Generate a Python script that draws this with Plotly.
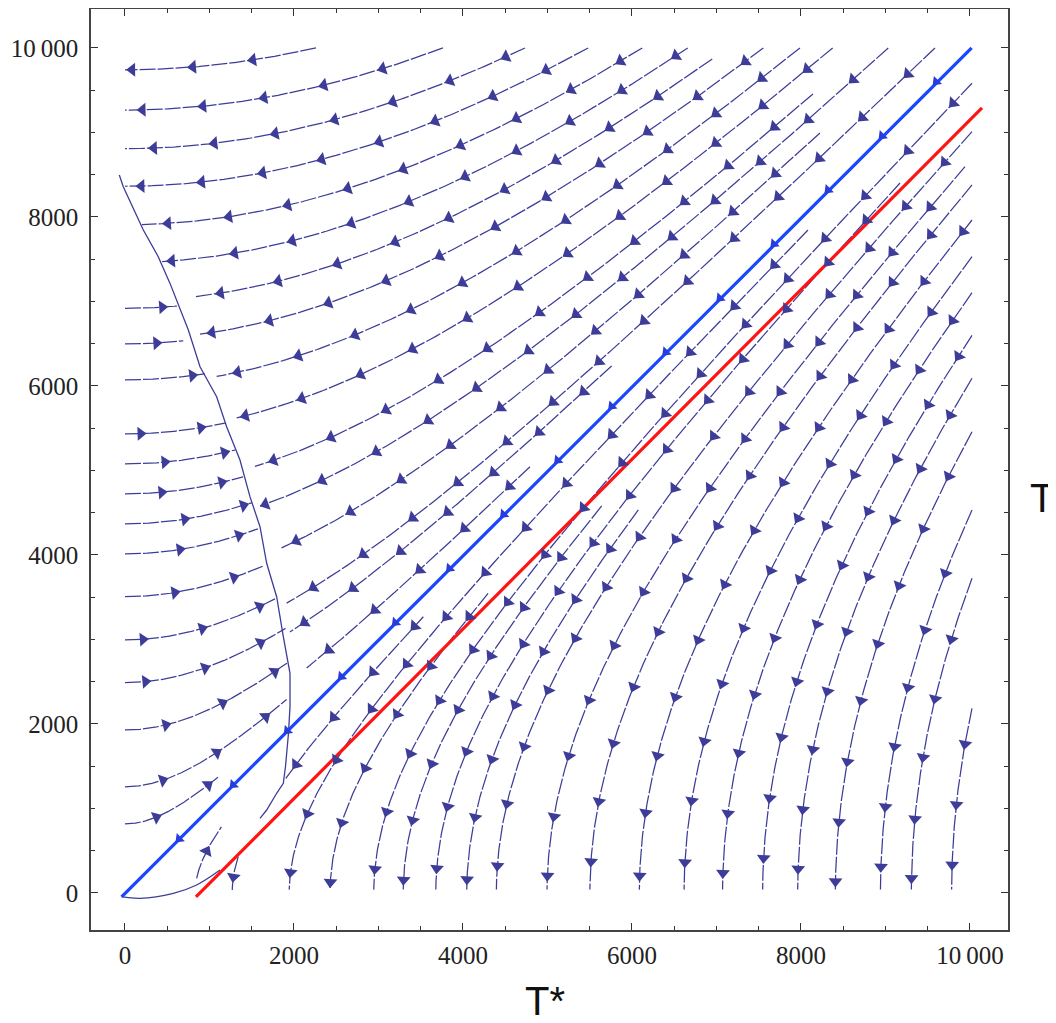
import numpy as np
import plotly.graph_objects as go

# ---------------- data ----------------
# Upper family (above the diagonal, flowing left): start point and end T*
UP_X0 = [2260, 3763, 4734, 5482, 6121, 6660, 6950, 7554, 7988, 8375, 8142, 9033, 8225, 9586, 5759, 4793]
UP_Y0 = [10000, 10000, 10000, 10000, 10000, 10000, 9870, 10000, 10000, 10000, 9456, 10000, 8994, 10000, 6237, 5044]
UP_X1 = [0, 0, 0, 0, 200, 414, 828, 888, 1085, 1322, 1538, 1598, 1834, 1913, 1953, 2150]

# Left family (start at T*=0, flowing right to the nullcline): start T and end T*
LEFT_Y0 = [6919, 6497, 6071, 5432, 5077, 4722, 4367, 4012, 3506, 2994, 2489, 1929, 1257, 817]
LEFT_X1 = [620, 690, 947, 1183, 1302, 1397, 1500, 1574, 1633, 1775, 1900, 1917, 1913, 1104]

# Lower family (below the diagonal, flowing down): start point and end T
LOW_X0 = [10024, 10024, 10024, 10024, 10024, 10024, 10024, 10024, 10024, 10024, 9941, 10024,
          6075, 9172, 5641, 10024, 4297, 8083, 1340, 3531, 848]
LOW_Y0 = [2186, 3724, 4533, 5459, 6091, 6598, 7104, 7530, 7964, 8379, 8595, 9009,
          4533, 8402, 4580, 9582, 3546, 7846, 430, 3269, 173]
LOW_Y1 = [40, 40, 40, 40, 40, 40, 40, 40, 40, 40, 40, 40,
          40, 40, 40, 40, 40, 40, 30, 1357, 783]

# Nullcline curves (thin lines)
NULL_X = [-67, -20, 217, 394, 533, 750, 888, 1085, 1203, 1361, 1479, 1598, 1677, 1795, 1874,
          1910, 1953, 1953, 1935, 1900, 1874, 1795, 1677, 1598]
NULL_Y = [8497, 8358, 7846, 7530, 7214, 6663, 6228, 5873, 5518, 5124, 4690, 4335, 3902, 3506, 3033,
          2850, 2600, 2205, 1890, 1500, 1298, 1180, 982, 884]
BOT_X = [-39, 177, 572, 848, 1124]
BOT_Y = [-44, -63, -4, 95, 272]

# Straight lines
BLUE_X = [-40, 10020]
BLUE_Y = [-45, 10000]
RED_X = [840, 10142]
RED_Y = [-47, 9290]

TICK_VALS = [0, 2000, 4000, 6000, 8000, 10000]
TICK_TEXT = ["0", "2000", "4000", "6000", "8000", "10\u2009000"]

# ---------------- geometry helpers ----------------
def hyper_path(x0, y0, x1=None, y1=None, n=160):
    C = y0 ** 2 - x0 ** 2
    if C > 0:
        a = np.sqrt(C)
        u = np.linspace(np.arcsinh(x0 / a), np.arcsinh(x1 / a), n)
        return a * np.sinh(u), a * np.cosh(u)
    a = np.sqrt(-C)
    u = np.linspace(np.arcsinh(y0 / a), np.arcsinh(y1 / a), n)
    return a * np.cosh(u), a * np.sinh(u)

paths = []
for x0, y0, x1 in zip(UP_X0, UP_Y0, UP_X1):
    paths.append(hyper_path(x0, y0, x1=x1))
for y0, x1 in zip(LEFT_Y0, LEFT_X1):
    paths.append(hyper_path(0.0, y0, x1=x1))
for x0, y0, y1 in zip(LOW_X0, LOW_Y0, LOW_Y1):
    paths.append(hyper_path(x0, y0, y1=y1))

SPACING = 720.0
lx, ly = [], []
ax, ay, aang = [], [], []
for k, (px, py) in enumerate(paths):
    lx += list(px) + [None]
    ly += list(py) + [None]
    seg = np.hypot(np.diff(px), np.diff(py))
    s = np.concatenate([[0], np.cumsum(seg)])
    L = s[-1]
    pos = L - 90 - (k * 137) % 300
    marks = []
    while pos > 120:
        marks.append(pos)
        pos -= SPACING
    if not marks:
        marks = [L * 0.6]
    for m in marks:
        i = int(np.searchsorted(s, m))
        i = min(max(i, 1), len(px) - 1)
        dx = px[i] - px[i - 1]
        dy = py[i] - py[i - 1]
        ax.append(px[i]); ay.append(py[i])
        aang.append(float(np.degrees(np.arctan2(dx, dy))))

# arrows on the blue line (pointing toward the origin)
bx, by, bang = [], [], []
t = 9600.0
while t > 300:
    bx.append(t); by.append(t); bang.append(225.0)
    t -= 640.0

SC = "rgb(61,61,153)"
fig = go.Figure()
fig.add_trace(go.Scatter(x=lx, y=ly, mode="lines", line=dict(color=SC, width=1.25, dash="16px,2px"),
                         hoverinfo="skip", showlegend=False))
fig.add_trace(go.Scatter(x=NULL_X, y=NULL_Y, mode="lines", line=dict(color=SC, width=1.3),
                         hoverinfo="skip", showlegend=False))
fig.add_trace(go.Scatter(x=BOT_X, y=BOT_Y, mode="lines", line=dict(color=SC, width=1.3, shape="spline"),
                         hoverinfo="skip", showlegend=False))
fig.add_trace(go.Scatter(x=RED_X, y=RED_Y, mode="lines", line=dict(color="rgb(255,20,20)", width=3.2),
                         hoverinfo="skip", showlegend=False))
fig.add_trace(go.Scatter(x=BLUE_X, y=BLUE_Y, mode="lines", line=dict(color="rgb(25,70,255)", width=3.2),
                         hoverinfo="skip", showlegend=False))
fig.add_trace(go.Scatter(x=ax, y=ay, mode="markers",
                         marker=dict(symbol="triangle-up", size=12, color=SC, angle=aang, line=dict(width=0)),
                         hoverinfo="skip", showlegend=False))
fig.add_trace(go.Scatter(x=bx, y=by, mode="markers",
                         marker=dict(symbol="triangle-up", size=10, color="rgb(40,60,220)", angle=bang, line=dict(width=0)),
                         hoverinfo="skip", showlegend=False))

axis_common = dict(
    showgrid=False, zeroline=False, showline=True, mirror="ticks",
    linecolor="#444", linewidth=1.6,
    ticks="inside", ticklen=7, tickwidth=1.2, tickcolor="#333",
    tickvals=TICK_VALS, ticktext=TICK_TEXT,
    tickfont=dict(family="Liberation Serif", size=25, color="#222"),
    minor=dict(ticks="inside", ticklen=4, tickwidth=1, tickcolor="#333", dtick=500, tick0=0, showgrid=False),
)
fig.update_xaxes(range=[-402, 10450], ticklabelstandoff=2, **axis_common)
fig.update_yaxes(range=[-438, 10461], ticklabelstandoff=6, **axis_common)

# the page adds an 8px body margin, so the figure is laid out 8px smaller
W, H = 1048, 1015
L_M, T_M = 83, 1
PLOT_W, PLOT_H = 917, 921
fig.update_layout(
    width=W, height=H,
    margin=dict(l=L_M, r=W - L_M - PLOT_W, t=T_M, b=H - T_M - PLOT_H, autoexpand=False),
    plot_bgcolor="white", paper_bgcolor="white",
    annotations=[
        dict(text="T*", x=(545 - 8 - L_M) / PLOT_W,
             y=-(1001 - 8 - (T_M + PLOT_H)) / PLOT_H, xref="paper", yref="paper", showarrow=False,
             xanchor="center", yanchor="middle", font=dict(family="Liberation Sans", size=40, color="#111")),
        dict(text="T", x=(1042 - 8 - L_M) / PLOT_W, y=((T_M + PLOT_H) - (498 - 8)) / PLOT_H,
             xref="paper", yref="paper", showarrow=False,
             xanchor="center", yanchor="middle", font=dict(family="Liberation Sans", size=40, color="#111")),
    ],
)
fig.write_html("out.html")
